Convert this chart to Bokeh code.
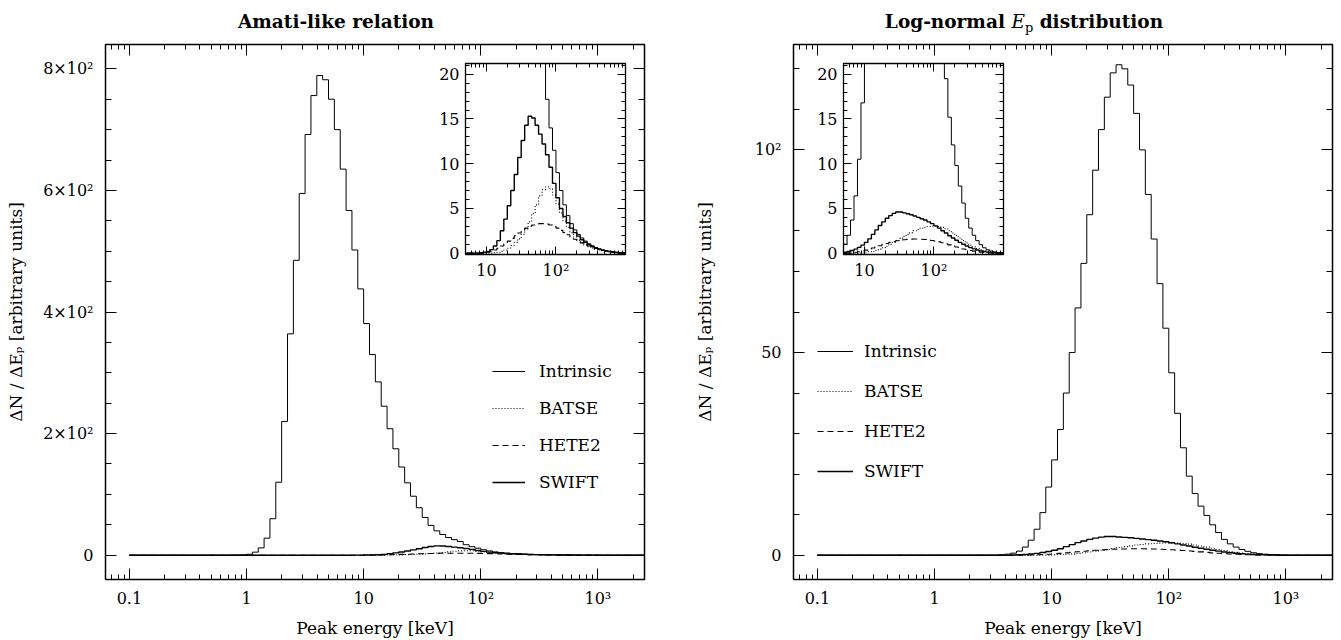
import numpy as np
from bokeh.plotting import figure
from bokeh.models import (Range1d, FixedTicker, LinearAxis, LogAxis, Div,
                          Legend, LegendItem, GridBox)
from bokeh.embed import file_html
from bokeh.resources import INLINE

# ---------------- binning (log10 keV) ----------------
BIN_LOG0 = -1.0
BIN_DEX = 0.05
N_BINS = 90

# ---------------- Amati-like relation panel ----------------
amati_intrinsic_start = -0.15
amati_intrinsic = [0.05, 0.2, 0.5, 1.5, 5, 12, 28, 60, 120, 220,
                   364, 485, 595, 692, 756, 789, 782, 750, 700, 635,
                   567, 502, 438, 381, 330, 285, 245, 208, 175, 145,
                   119, 97, 78, 62, 49, 40, 34, 29, 25.5, 22.5,
                   17.2, 14.0, 11.5, 9.0, 7.0, 5.4, 4.2, 3.3, 2.6, 2.1,
                   1.7, 1.35, 1.05, 0.82, 0.63, 0.48, 0.36, 0.27, 0.2, 0.14,
                   0.1, 0.07, 0.05, 0.03, 0.02, 0.01]
amati_swift_start = 0.90
amati_swift = [0.05, 0.1, 0.2, 0.4, 0.8, 1.4, 2.5, 3.8, 5.3, 7.0,
               8.8, 10.7, 12.6, 14.3, 15.3, 15.1, 14.3, 13.3, 12.2, 11.0,
               9.6, 7.8, 6.2, 5.0, 4.1, 3.4, 2.8, 2.3, 1.9, 1.5,
               1.2, 0.95, 0.75, 0.58, 0.45, 0.34, 0.25, 0.18, 0.12, 0.08,
               0.05, 0.03]
amati_batse_start = 1.10
amati_batse = [0.05, 0.1, 0.2, 0.35, 0.55, 0.85, 1.2, 1.6, 2.1, 2.7,
               3.5, 4.4, 5.4, 6.4, 7.1, 7.4, 7.2, 6.5, 5.5, 4.5,
               3.6, 2.9, 2.3, 1.8, 1.45, 1.15, 0.9, 0.72, 0.57, 0.45,
               0.35, 0.27, 0.2, 0.15, 0.1, 0.07, 0.05, 0.03]
amati_hete2_start = 1.00
amati_hete2 = [0.1, 0.2, 0.35, 0.55, 0.8, 1.05, 1.35, 1.65, 1.95, 2.25,
               2.55, 2.8, 3.0, 3.15, 3.25, 3.3, 3.3, 3.25, 3.15, 3.0,
               2.8, 2.55, 2.3, 2.05, 1.8, 1.55, 1.35, 1.15, 0.95, 0.8,
               0.65, 0.52, 0.4, 0.3, 0.23, 0.17, 0.12, 0.08, 0.05, 0.03]

# ---------------- Log-normal Ep distribution panel ----------------
lognorm_intrinsic_start = 0.55
lognorm_intrinsic = [0.1, 0.25, 0.5, 1.0, 2.0, 3.7, 6.4, 10.5, 16.8, 23.5,
                     31, 40, 50, 61, 72, 84, 95, 105, 113, 119,
                     121, 120, 116, 109, 100, 89, 78, 67, 56, 45,
                     35, 26.5, 19.5, 15.2, 12.1, 9.8, 7.5, 5.6, 3.9, 2.8,
                     2.0, 1.4, 0.95, 0.6, 0.38, 0.24, 0.14, 0.08, 0.04]
lognorm_swift_start = 0.65
lognorm_swift = [0.05, 0.1, 0.18, 0.3, 0.45, 0.65, 0.9, 1.2, 1.6, 2.1,
                 2.6, 3.1, 3.5, 3.9, 4.2, 4.45, 4.6, 4.6, 4.5, 4.4,
                 4.3, 4.15, 4.0, 3.85, 3.7, 3.5, 3.3, 3.05, 2.8, 2.5,
                 2.25, 1.95, 1.7, 1.45, 1.2, 1.0, 0.8, 0.62, 0.48, 0.36,
                 0.26, 0.18, 0.12, 0.08, 0.05, 0.03]
lognorm_batse_start = 1.00
lognorm_batse = [0.1, 0.15, 0.22, 0.32, 0.45, 0.6, 0.78, 0.98, 1.2, 1.42,
                 1.65, 1.88, 2.1, 2.3, 2.5, 2.65, 2.8, 2.9, 2.98, 3.02,
                 3.02, 2.98, 2.88, 2.72, 2.5, 2.25, 1.98, 1.7, 1.42, 1.15,
                 0.9, 0.7, 0.52, 0.37, 0.26, 0.17, 0.11, 0.07, 0.04, 0.02]
lognorm_hete2_start = 0.80
lognorm_hete2 = [0.05, 0.1, 0.16, 0.24, 0.34, 0.45, 0.57, 0.7, 0.83, 0.96,
                 1.08, 1.2, 1.3, 1.38, 1.45, 1.5, 1.54, 1.57, 1.58, 1.58,
                 1.56, 1.53, 1.48, 1.42, 1.35, 1.26, 1.16, 1.05, 0.93, 0.81,
                 0.69, 0.58, 0.47, 0.38, 0.3, 0.23, 0.17, 0.12, 0.08, 0.05, 0.03]

series_names = ["Intrinsic", "BATSE", "HETE2", "SWIFT"]

# ---------------- ticks ----------------
x_major = [0.1, 1, 10, 100, 1000]
x_major_labels = ["0.1", "1", "10", "10²", "10³"]
x_minor = [0.07, 0.08, 0.09, 0.2, 0.3, 0.4, 0.5, 0.6, 0.7, 0.8, 0.9,
           2, 3, 4, 5, 6, 7, 8, 9, 20, 30, 40, 50, 60, 70, 80, 90,
           200, 300, 400, 500, 600, 700, 800, 900, 2000]
amati_y_major = [0, 200, 400, 600, 800]
amati_y_labels = ["0", "2×10²", "4×10²", "6×10²", "8×10²"]
amati_y_minor = [50, 100, 150, 250, 300, 350, 450, 500, 550, 650, 700, 750]
lognorm_y_major = [0, 50, 100]
lognorm_y_labels = ["0", "50", "10²"]
lognorm_y_minor = [10, 20, 30, 40, 60, 70, 80, 90, 110, 120]
inset_x_major = [10, 100]
inset_x_labels = ["10", "10²"]
inset_x_minor = [6, 7, 8, 9, 20, 30, 40, 50, 60, 70, 80, 90,
                 200, 300, 400, 500, 600, 700, 800, 900]
inset_y_major = [0, 5, 10, 15, 20]
inset_y_labels = ["0", "5", "10", "15", "20"]
inset_y_minor = [1, 2, 3, 4, 6, 7, 8, 9, 11, 12, 13, 14, 16, 17, 18, 19, 21]

FONT = "DejaVu Serif"
W, H = 1341, 640

edges = 10 ** (BIN_LOG0 + BIN_DEX * np.arange(N_BINS + 1))


def expand(start_log, values):
    arr = np.zeros(N_BINS)
    i0 = int(round((start_log - BIN_LOG0) / BIN_DEX))
    arr[i0:i0 + len(values)] = values
    return arr


def setup_axis(axis, ticks, minor, labels, show, major_len, minor_len, standoff=8):
    axis.ticker = FixedTicker(ticks=ticks, minor_ticks=minor)
    axis.major_tick_in = major_len
    axis.major_tick_out = 0
    axis.minor_tick_in = minor_len
    axis.minor_tick_out = 0
    axis.major_tick_line_color = "black"
    axis.minor_tick_line_color = "black"
    axis.major_tick_line_width = 1
    axis.minor_tick_line_width = 1
    axis.axis_line_color = None
    if show:
        axis.major_label_overrides = dict(zip(ticks, labels))
        axis.major_label_text_font = FONT
        axis.major_label_text_font_size = "16px"
        axis.major_label_text_color = "black"
        axis.major_label_standoff = standoff
    else:
        axis.major_label_text_color = None
        axis.major_label_text_font_size = "1px"
        axis.major_label_standoff = 0


def make_fig(xr, yr, fl, ft, fw, fh):
    p = figure(width=W, height=H, x_axis_type="log", x_range=xr, y_range=yr,
               output_backend="svg", toolbar_location=None, title=None,
               min_border_left=fl, min_border_top=ft,
               min_border_right=W - fl - fw, min_border_bottom=H - ft - fh)
    p.xgrid.visible = False
    p.ygrid.visible = False
    p.background_fill_color = "white"
    p.border_fill_color = None
    p.outline_line_color = "black"
    p.outline_line_width = 1.5
    return p


def draw(p, vals, dash, width):
    y = np.append(vals, vals[-1])
    return p.step(edges, y, mode="after", line_color="black",
                  line_width=width, line_dash=dash)


STYLE = {"Intrinsic": ("solid", 1.0), "BATSE": ("1 2", 1.1),
         "HETE2": ("6 4", 1.1), "SWIFT": ("solid", 1.4)}


def main_panel(fl, series, y_major, y_minor, y_labels, yr,
               legend_loc, legend_spacing, glyph_w, standoff, ylabel_standoff):
    p = make_fig(Range1d(0.0625, 2500), yr, fl, 44, 539, 539)
    setup_axis(p.below[0], x_major, x_minor, x_major_labels, True, 11, 5, 9)
    setup_axis(p.left[0], y_major, y_minor, y_labels, True, 11, 6, 12)
    top = LogAxis()
    setup_axis(top, x_major, x_minor, x_major_labels, False, 11, 5)
    p.add_layout(top, "above")
    right = LinearAxis()
    setup_axis(right, y_major, y_minor, y_labels, False, 11, 6)
    p.add_layout(right, "right")
    xa = p.below[0]
    xa.axis_label = "Peak energy [keV]"
    xa.axis_label_text_font = FONT
    xa.axis_label_text_font_size = "17px"
    xa.axis_label_text_font_style = "normal"
    xa.axis_label_text_color = "black"
    xa.axis_label_standoff = 7
    ya = p.left[0]
    ya.axis_label = "ΔN / ΔEₚ [arbitrary units]"
    ya.axis_label_text_font = FONT
    ya.axis_label_text_font_size = "17px"
    ya.axis_label_text_font_style = "normal"
    ya.axis_label_text_color = "black"
    ya.axis_label_standoff = ylabel_standoff
    rends = {}
    for name in series_names:
        dash, width = STYLE[name]
        rends[name] = draw(p, series[name], dash, width)
    legend = Legend(items=[LegendItem(label=n, renderers=[rends[n]]) for n in series_names],
                    location=legend_loc, orientation="vertical",
                    glyph_width=glyph_w, glyph_height=20, label_height=20,
                    spacing=legend_spacing, padding=0, margin=0,
                    label_standoff=standoff, border_line_color=None,
                    background_fill_alpha=0, label_text_font=FONT,
                    label_text_font_size="17px", label_text_color="black")
    p.add_layout(legend)
    return p


def inset_panel(fl, series):
    p = make_fig(Range1d(5, 1000), Range1d(-0.15, 21.2), fl, 63, 160, 191)
    p.outline_line_width = 1.3
    setup_axis(p.below[0], inset_x_major, inset_x_minor, inset_x_labels, True, 8, 4, 6)
    setup_axis(p.left[0], inset_y_major, inset_y_minor, inset_y_labels, True, 8, 4, 6)
    top = LogAxis()
    setup_axis(top, inset_x_major, inset_x_minor, inset_x_labels, False, 8, 4)
    p.add_layout(top, "above")
    right = LinearAxis()
    setup_axis(right, inset_y_major, inset_y_minor, inset_y_labels, False, 8, 4)
    p.add_layout(right, "right")
    for name in series_names:
        dash, width = STYLE[name]
        draw(p, series[name], dash, width)
    return p


amati = {"Intrinsic": expand(amati_intrinsic_start, amati_intrinsic),
         "SWIFT": expand(amati_swift_start, amati_swift),
         "BATSE": expand(amati_batse_start, amati_batse),
         "HETE2": expand(amati_hete2_start, amati_hete2)}
lognorm = {"Intrinsic": expand(lognorm_intrinsic_start, lognorm_intrinsic),
           "SWIFT": expand(lognorm_swift_start, lognorm_swift),
           "BATSE": expand(lognorm_batse_start, lognorm_batse),
           "HETE2": expand(lognorm_hete2_start, lognorm_hete2)}

p_left = main_panel(105, amati, amati_y_major, amati_y_minor, amati_y_labels,
                    Range1d(-40, 840), (387, 87), 17, 33, 14, 14)
p_right = main_panel(793, lognorm, lognorm_y_major, lognorm_y_minor, lognorm_y_labels,
                     Range1d(-6, 126), (24, 98), 20, 36, 11, 37)
p_left_in = inset_panel(465, amati)
p_right_in = inset_panel(843, lognorm)

# panel titles (HTML text so that the italic E with subscript p can be kept)
span = ("position:absolute;top:6px;transform:translateX(-50%);"
        "white-space:nowrap;line-height:22px;")
titles = Div(width=W, height=34, text=(
    f'<div style="position:relative;width:{W}px;height:34px;'
    f'font-family:\'{FONT}\';font-weight:bold;font-size:18.5px;color:black;">'
    f'<span style="{span}left:331px;">Amati-like relation</span>'
    f'<span style="{span}left:1019px;">Log-normal '
    '<i style="font-weight:normal;">E</i><span style="font-weight:normal;'
    'font-size:13px;position:relative;top:4px;">p</span> distribution</span>'
    '</div>'))

# every element covers the same area; each one starts and ends on its own
# (zero-size) grid track so that the grid does not align the plot frames
items = [p_left, p_right, p_left_in, p_right_in, titles]
n = len(items)
tracks_w = ["0px"] * (n - 1) + [f"{W}px"] + ["0px"] * (n - 1)
tracks_h = ["0px"] * (n - 1) + [f"{H}px"] + ["0px"] * (n - 1)
grid = GridBox(children=[(it, k, k, n, n) for k, it in enumerate(items)],
               rows=tracks_h, cols=tracks_w, spacing=0)

open("out.html", "w").write(file_html(grid, INLINE, title="Ep distributions"))
